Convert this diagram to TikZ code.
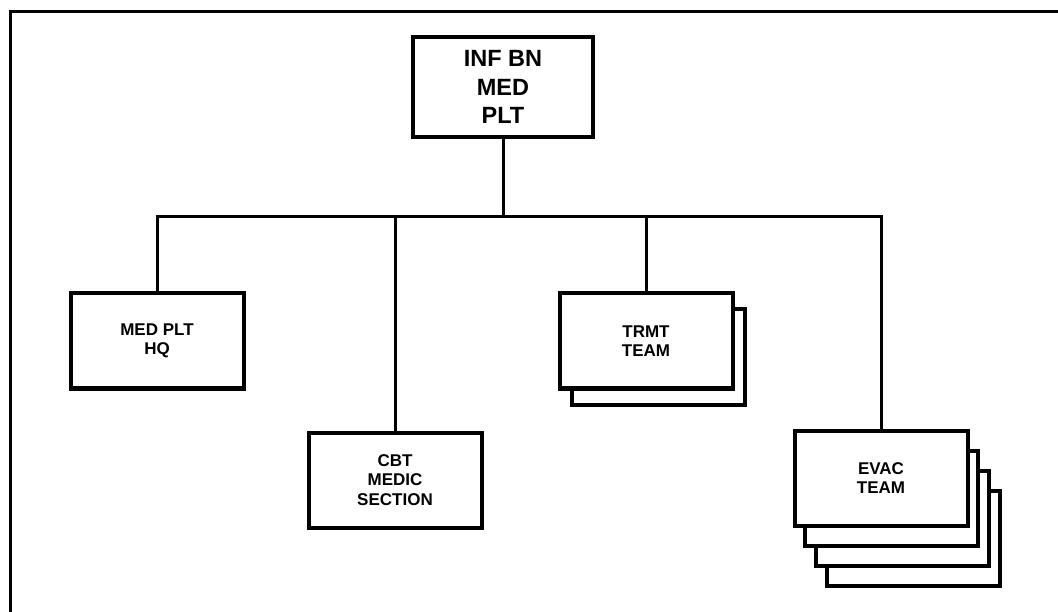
\documentclass[tikz,border=0pt]{standalone}
\usepackage{fontspec}
\setmainfont{Liberation Sans}
\begin{document}
\begin{tikzpicture}[x=1pt,y=-1pt,
    unit/.style={draw, line width=4pt, fill=white, minimum width=173pt, minimum height=95pt,
      align=center, inner sep=0pt, font=\bfseries\fontsize{17}{19.5}\selectfont},
    topunit/.style={unit, minimum width=180pt, minimum height=100pt,
      font=\bfseries\fontsize{23.5}{28.5}\selectfont},
    link/.style={line width=3pt}]
    \useasboundingbox (0,0) rectangle (1058,612);

    % Outer frame (open to the right and bottom)
    \draw[line width=3.5pt] (10.5,612) -- (10.5,11.5) -- (1058,11.5);

    % Stacked copies behind the team boxes
    \node[unit] (trmt-1) at (658,357) {};
    \foreach \k in {3,2,1}
      \node[unit] (evac-\k) at ({881+10.7*\k},{478+20*\k}) {};

    % Platoon and its elements
    \node[topunit] (plt) at (503,87) {INF BN\\MED\\PLT};
    \node[unit] (hq) at (157,341) {MED PLT\\HQ};
    \node[unit] (cbt) at (395,480) {CBT\\MEDIC\\SECTION};
    \node[unit] (trmt) at (646,341) {TRMT\\TEAM};
    \node[unit] (evac) at (881,478) {EVAC\\TEAM};

    % Connectors
    \coordinate (bus) at (0,217);
    \draw[link] (plt.south) -- (plt.south |- bus);
    \draw[link] (hq.north) -- (hq.north |- bus) -- (evac.north |- bus) -- (evac.north);
    \draw[link] (cbt.north) -- (cbt.north |- bus);
    \draw[link] (trmt.north) -- (trmt.north |- bus);
\end{tikzpicture}
\end{document}
